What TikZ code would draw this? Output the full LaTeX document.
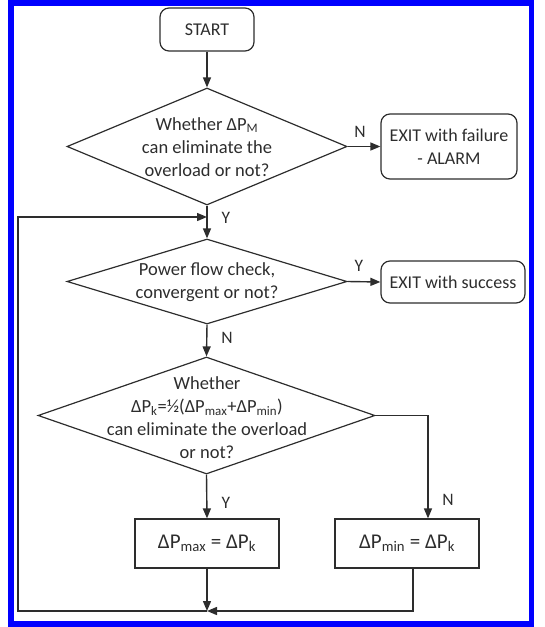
\documentclass[tikz,border=0pt]{standalone}
\usepackage{fontspec}
\setmainfont{Carlito}
\usetikzlibrary{shapes.geometric,arrows.meta,calc}
\definecolor{ink}{RGB}{45,45,45}
\definecolor{frameblue}{RGB}{0,0,255}
\begin{document}
\begin{tikzpicture}[x=1pt,y=-1pt,
  every node/.style={text=ink},
  flow/.style={draw=ink,line width=1.4pt},
  arr/.style={flow,-{Triangle[length=10pt,width=8pt]}},
  term/.style={draw=ink,line width=1.2pt,rounded corners=9pt,inner sep=0pt,align=center,font=\fontsize{18}{22.5}\selectfont},
  dia/.style={diamond,draw=ink,line width=1.2pt,inner sep=0pt},
  dtext/.style={align=center,inner sep=0pt,font=\fontsize{18.5}{23}\selectfont},
  proc/.style={draw=ink,line width=1.2pt,inner sep=0pt,minimum width=144pt,minimum height=49pt,font=\fontsize{21}{25}\selectfont},
  lab/.style={inner sep=0pt,font=\fontsize{17.5}{20}\selectfont}]
\useasboundingbox (0,0) rectangle (544,627);
\draw[frameblue,line width=5.5pt] (11,2.75) rectangle (531.5,623.75);

\node[term,minimum width=94pt,minimum height=43pt] (start) at (207,29.5) {START};
\node[dia,minimum width=280pt,minimum height=117pt] (d1) at (207,146.5) {};
\node[dtext] (d1t) at (207,147) {Whether ΔP\textsubscript{M}\\can eliminate the\\overload or not?};
\node[term,minimum width=136pt,minimum height=65pt] (fail) at (449,146.5) {EXIT with failure\\- ALARM};
\node[dia,minimum width=280pt,minimum height=85pt] (d2) at (207,281.5) {};
\node[dtext] (d2t) at (207,282) {Power flow check,\\convergent or not?};
\node[term,minimum width=144pt,minimum height=42pt] (succ) at (453,282) {EXIT with success};
\node[dia,minimum width=337pt,minimum height=117pt] (d3) at (206.5,415.5) {};
\node[dtext] (d3t) at (207,418) {Whether\\ΔP\textsubscript{k}=½(ΔP\textsubscript{max}+ΔP\textsubscript{min})\\can eliminate the overload\\or not?};
\node[proc] (b1) at (207,543.5) {ΔP\textsubscript{max} = ΔP\textsubscript{k}};
\node[proc] (b2) at (407,543.5) {ΔP\textsubscript{min} = ΔP\textsubscript{k}};

\coordinate (j1) at (207,217);
\coordinate (j2) at (207,611);
\coordinate (lb) at (18,611);
\coordinate (lt) at (18,217);

\draw[arr] (start.south) -- (d1.north);
\draw[arr] (d1.east) -- (fail.west);
\draw[arr] (d1.south) -- (d2.north);
\draw[arr] (j2) -- (lb) -- (lt) -- (j1);
\draw[arr] (d2.east) -- (succ.west);
\draw[arr] (d2.south) -- (d3.north);
\draw[arr] (d3.south) -- (b1.north);
\draw[arr] (d3.east) -| ([xshift=21pt]b2.north);
\draw[arr] (b1.south) -- (j2);
\draw[arr] ([xshift=6pt]b2.south) |- (j2);

\node[lab] (ln1) at (360,132) {N};
\node[lab] (ly1) at (226,218) {Y};
\node[lab] (ly2) at (359,266) {Y};
\node[lab] (ln2) at (227,338) {N};
\node[lab] (ly3) at (226,503) {Y};
\node[lab] (ln3) at (448,500) {N};
\end{tikzpicture}
\end{document}
